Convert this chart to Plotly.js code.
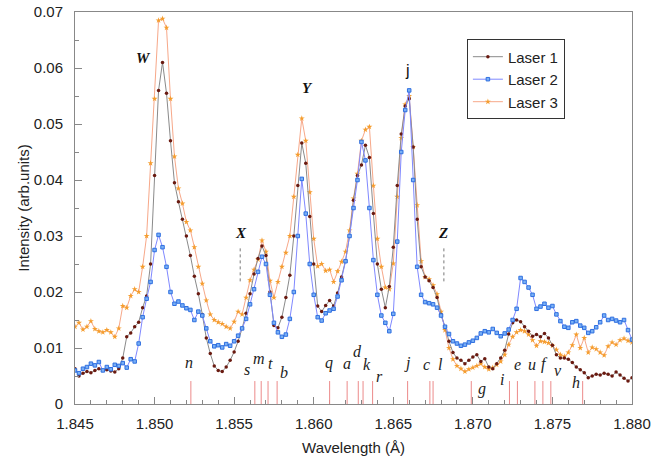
<!DOCTYPE html>
<html>
<head>
<meta charset="utf-8">
<script src="https://cdn.plot.ly/plotly-3.0.1.min.js"></script>
<style>html,body{margin:0;padding:0;background:#fff;}#chart{width:653px;height:458px;}</style>
</head>
<body>
<div id="chart"></div>
<script>
// Wavelength grid (Å)
const wavelength = [
1.84500,1.84525,1.84550,1.84575,1.84600,1.84625,1.84650,1.84675,1.84700,1.84725,
1.84750,1.84775,1.84800,1.84825,1.84850,1.84875,1.84900,1.84925,1.84950,1.84975,
1.85000,1.85025,1.85050,1.85075,1.85100,1.85125,1.85150,1.85175,1.85200,1.85225,
1.85250,1.85275,1.85300,1.85325,1.85350,1.85375,1.85400,1.85425,1.85450,1.85475,
1.85500,1.85525,1.85550,1.85575,1.85600,1.85625,1.85650,1.85675,1.85700,1.85725,
1.85750,1.85775,1.85800,1.85825,1.85850,1.85875,1.85900,1.85925,1.85950,1.85975,
1.86000,1.86025,1.86050,1.86075,1.86100,1.86125,1.86150,1.86175,1.86200,1.86225,
1.86250,1.86275,1.86300,1.86325,1.86350,1.86375,1.86400,1.86425,1.86450,1.86475,
1.86500,1.86525,1.86550,1.86575,1.86600,1.86625,1.86650,1.86675,1.86700,1.86725,
1.86750,1.86775,1.86800,1.86825,1.86850,1.86875,1.86900,1.86925,1.86950,1.86975,
1.87000,1.87025,1.87050,1.87075,1.87100,1.87125,1.87150,1.87175,1.87200,1.87225,
1.87250,1.87275,1.87300,1.87325,1.87350,1.87375,1.87400,1.87425,1.87450,1.87475,
1.87500,1.87525,1.87550,1.87575,1.87600,1.87625,1.87650,1.87675,1.87700,1.87725,
1.87750,1.87775,1.87800,1.87825,1.87850,1.87875,1.87900,1.87925,1.87950,1.87975,
1.88000];

const laser1 = [
0.0063,0.0050,0.0055,0.0058,0.0056,0.0060,0.0063,0.0060,0.0061,0.0059,
0.0057,0.0063,0.0082,0.0120,0.0127,0.0138,0.0146,0.0172,0.0193,0.0250,
0.0408,0.0560,0.0610,0.0555,0.0470,0.0395,0.0361,0.0330,0.0300,0.0265,
0.0228,0.0197,0.0160,0.0118,0.0090,0.0068,0.0060,0.0058,0.0066,0.0078,
0.0093,0.0112,0.0135,0.0162,0.0197,0.0232,0.0260,0.0282,0.0265,0.0200,
0.0140,0.0136,0.0155,0.0190,0.0230,0.0300,0.0390,0.0466,0.0430,0.0335,
0.0250,0.0175,0.0165,0.0176,0.0185,0.0175,0.0198,0.0227,0.0256,0.0300,
0.0364,0.0408,0.0427,0.0462,0.0440,0.0340,0.0250,0.0205,0.0172,0.0210,
0.0280,0.0390,0.0482,0.0532,0.0545,0.0459,0.0330,0.0245,0.0227,0.0220,
0.0208,0.0190,0.0160,0.0138,0.0112,0.0092,0.0082,0.0078,0.0072,0.0078,
0.0084,0.0088,0.0076,0.0081,0.0066,0.0063,0.0072,0.0082,0.0096,0.0125,
0.0145,0.0150,0.0147,0.0138,0.0130,0.0121,0.0124,0.0120,0.0126,0.0118,
0.0105,0.0088,0.0082,0.0082,0.0080,0.0074,0.0066,0.0061,0.0056,0.0047,
0.0050,0.0053,0.0052,0.0055,0.0053,0.0050,0.0057,0.0052,0.0046,0.0041,
0.0047];

const laser2 = [
0.0060,0.0055,0.0063,0.0066,0.0072,0.0069,0.0075,0.0060,0.0066,0.0062,
0.0070,0.0068,0.0073,0.0065,0.0080,0.0076,0.0108,0.0155,0.0188,0.0218,
0.0275,0.0302,0.0280,0.0245,0.0200,0.0179,0.0183,0.0176,0.0171,0.0168,
0.0150,0.0165,0.0158,0.0135,0.0112,0.0103,0.0105,0.0101,0.0107,0.0104,
0.0112,0.0122,0.0135,0.0152,0.0178,0.0205,0.0236,0.0263,0.0250,0.0195,
0.0145,0.0128,0.0120,0.0124,0.0152,0.0200,0.0300,0.0402,0.0340,0.0250,
0.0195,0.0155,0.0149,0.0162,0.0167,0.0170,0.0192,0.0221,0.0255,0.0300,
0.0350,0.0400,0.0468,0.0435,0.0350,0.0257,0.0195,0.0158,0.0145,0.0130,
0.0161,0.0290,0.0450,0.0525,0.0560,0.0400,0.0245,0.0195,0.0182,0.0180,
0.0178,0.0172,0.0158,0.0138,0.0125,0.0112,0.0108,0.0104,0.0106,0.0110,
0.0113,0.0118,0.0126,0.0130,0.0128,0.0134,0.0127,0.0121,0.0126,0.0133,
0.0150,0.0170,0.0225,0.0218,0.0208,0.0195,0.0170,0.0174,0.0179,0.0172,
0.0175,0.0160,0.0148,0.0138,0.0136,0.0146,0.0148,0.0140,0.0136,0.0127,
0.0130,0.0137,0.0146,0.0158,0.0150,0.0152,0.0149,0.0146,0.0150,0.0132,
0.0115];

const laser3 = [
0.0138,0.0145,0.0133,0.0138,0.0148,0.0134,0.0130,0.0128,0.0132,0.0128,
0.0120,0.0135,0.0175,0.0172,0.0193,0.0205,0.0200,0.0245,0.0300,0.0430,
0.0545,0.0685,0.0688,0.0672,0.0545,0.0442,0.0385,0.0358,0.0325,0.0310,
0.0280,0.0245,0.0215,0.0185,0.0160,0.0150,0.0146,0.0143,0.0138,0.0135,
0.0147,0.0165,0.0160,0.0190,0.0221,0.0240,0.0258,0.0292,0.0272,0.0220,
0.0190,0.0218,0.0245,0.0270,0.0300,0.0370,0.0445,0.0510,0.0470,0.0378,
0.0295,0.0246,0.0250,0.0238,0.0240,0.0218,0.0237,0.0254,0.0272,0.0310,
0.0367,0.0411,0.0470,0.0490,0.0495,0.0390,0.0295,0.0245,0.0208,0.0205,
0.0251,0.0370,0.0475,0.0535,0.0550,0.0459,0.0355,0.0255,0.0227,0.0223,
0.0212,0.0196,0.0165,0.0132,0.0100,0.0080,0.0068,0.0063,0.0058,0.0062,
0.0065,0.0068,0.0072,0.0066,0.0062,0.0065,0.0070,0.0076,0.0088,0.0106,
0.0120,0.0128,0.0132,0.0130,0.0124,0.0114,0.0104,0.0112,0.0111,0.0109,
0.0104,0.0097,0.0088,0.0085,0.0092,0.0105,0.0124,0.0100,0.0118,0.0092,
0.0101,0.0098,0.0092,0.0087,0.0103,0.0110,0.0106,0.0114,0.0117,0.0113,
0.0110];

// Reference line positions (Å) and their letter labels
const lineWl = [1.85228,1.8563,1.8567,1.85713,1.8577,1.8610,1.8621,1.8628,1.8631,1.8637,
                1.8659,1.8673,1.8675,1.8699,1.8723,1.8728,1.8739,1.8744,1.8749,1.8769];
const lineLabels = ["n","s","m","t","b","q","a","d","k","r","j","c","l","g","i","e","u","f","v","h"];
const labelX = [1.85217,1.85580,1.85655,1.85726,1.85814,1.86096,1.86207,1.86274,1.86335,1.86412,
                1.86590,1.86710,1.86797,1.87059,1.87182,1.87281,1.87372,1.87450,1.87532,1.87647];
const labelY = [0.0075,0.0062,0.0082,0.0073,0.0057,0.0074,0.0073,0.0094,0.0071,0.0049,
                0.0073,0.0071,0.0071,0.0026,0.0044,0.0071,0.0071,0.0071,0.0059,0.0039];
const lineTop = 0.0041;

// Peak names
const peakNames = ["W","Y","X","Z"];
const peakX = [1.84929,1.85958,1.85544,1.86812];
const peakY = [0.0617,0.0564,0.0305,0.0305];
const markerX = [1.85538,1.86818];   // dotted markers below X and Z
const markerY0 = 0.0219, markerY1 = 0.0280;

const traces = [
  {x: wavelength, y: laser3, name: "Laser 3", type: "scatter", mode: "lines+markers",
   line: {color: "#f7a889", width: 1}, marker: {color: "#f59d2e", size: 4.5, symbol: "star"}, legendrank: 3},
  {x: wavelength, y: laser1, name: "Laser 1", type: "scatter", mode: "lines+markers",
   line: {color: "#8a8a8a", width: 1}, marker: {color: "#6a1a10", size: 3.5, symbol: "circle"}, legendrank: 1},
  {x: wavelength, y: laser2, name: "Laser 2", type: "scatter", mode: "lines+markers",
   line: {color: "#7f88ff", width: 1}, marker: {color: "#79b0f5", size: 3.5, symbol: "square", line: {color: "#2f6fe0", width: 1}}, legendrank: 2}
];

const shapes = [];
lineWl.forEach(w => shapes.push({type: "line", xref: "x", yref: "y", x0: w, x1: w, y0: 0, y1: lineTop,
  line: {color: "#ec8a8a", width: 1}}));
markerX.forEach(w => shapes.push({type: "line", xref: "x", yref: "y", x0: w, x1: w, y0: markerY0, y1: markerY1,
  line: {color: "#777", width: 1, dash: "dot"}}));

const annotations = [];
lineLabels.forEach((t, i) => annotations.push({x: labelX[i], y: labelY[i], xref: "x", yref: "y", text: "<i>" + t + "</i>",
  showarrow: false, font: {family: "Liberation Serif, serif", size: 16, color: "#222"}}));
peakNames.forEach((t, i) => annotations.push({x: peakX[i], y: peakY[i], xref: "x", yref: "y", text: "<b><i>" + t + "</i></b>",
  showarrow: false, font: {family: "Liberation Serif, serif", size: 15, color: "#111"}}));
annotations.push({x: 1.86592, y: 0.0596, xref: "x", yref: "y", text: "j", showarrow: false,
  font: {family: "Liberation Sans, Arial, sans-serif", size: 16, color: "#111"}});

const layout = {
  width: 653, height: 458,
  margin: {l: 75, r: 21, t: 12, b: 54},
  paper_bgcolor: "#fff", plot_bgcolor: "#fff",
  font: {family: "Liberation Sans, Arial, sans-serif", size: 15, color: "#222"},
  showlegend: true,
  legend: {x: 0.7036, y: 0.93, xanchor: "left", yanchor: "top", bordercolor: "#333", borderwidth: 1,
           bgcolor: "#fff", font: {size: 15, color: "#222"}, tracegroupgap: 0, itemwidth: 30},
  xaxis: {range: [1.845, 1.880], tickvals: [1.845,1.85,1.855,1.86,1.865,1.87,1.875,1.88], tickformat: ".3f",
          ticks: "inside", ticklen: 7, tickcolor: "#888", showline: true, linecolor: "#888", mirror: true,
          showgrid: false, zeroline: false, ticklabelstandoff: 6,
          minor: {dtick: 0.001, ticks: "inside", ticklen: 4, tickcolor: "#888", showgrid: false},
          title: {text: "Wavelength (Å)", font: {size: 15}, standoff: 11}},
  yaxis: {range: [0, 0.07], dtick: 0.01, ticks: "inside", ticklen: 7, tickcolor: "#888",
          showline: true, linecolor: "#888", mirror: true, showgrid: false, zeroline: false,
          ticklabelstandoff: 8,
          minor: {dtick: 0.005, ticks: "inside", ticklen: 4, tickcolor: "#888", showgrid: false},
          title: {text: "Intensity (arb.units)", font: {size: 15}, standoff: 0}},
  shapes: shapes,
  annotations: annotations
};

Plotly.newPlot("chart", traces, layout, {staticPlot: true, displayModeBar: false});
</script>
</body>
</html>
